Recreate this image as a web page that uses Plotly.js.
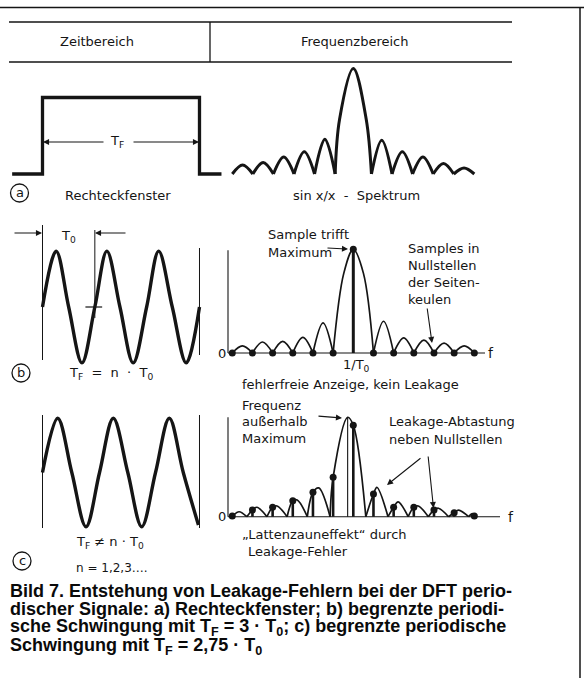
<!DOCTYPE html>
<html><head><meta charset="utf-8">
<script src="https://cdn.plot.ly/plotly-3.0.1.min.js"></script>
<style>html,body{margin:0;padding:0;background:#fff}#plot{width:584px;height:678px}</style>
</head><body><div id="plot"></div>
<script>
// ---------- data ----------
// time domain, t in units of T0 (window T_F spans 0..3)
const rectT = [-0.58, 0, 0, 3, 3, 3.42];
const rectA = [0, 0, 1, 1, 0, 0];
const sineBT = [0, 0.26, 0.5, 0.754, 1.0, 1.23, 1.48, 1.733, 1.99, 2.22, 2.48, 2.747, 3.0];
const sineBA = [0, 1, 0, -1, 0, 1, 0, -1, 0, 1, 0, -1, 0];
const sineCT = [0, 0.29, 0.56, 0.831, 1.09, 1.353, 1.63, 1.896, 2.16, 2.423, 2.69, 2.98];
const sineCA = [0, 1, 0, -1, 0, 1, 0, -1, 0, 1, 0, -0.97];
// frequency domain, k in DFT bins (spacing 1/T_F), magnitude relative to main lobe
const specAZeros = [-6.0, -4.98, -3.96, -2.94, -1.92, -0.9, 0.9, 1.92, 2.94, 3.96, 4.98, 6.0];
const specAPeaks = [0.085, 0.11, 0.16, 0.21, 0.33, 1.0, 0.32, 0.21, 0.16, 0.10, 0.057];
const specAShapeK = [-0.68, 0.64];
const specAShapeH = [0.52, 0.52];
const specBZeros = [-6, -5, -4, -3, -2, -1, 1, 2, 3, 4, 5, 6];
const specBPeaks = [0.068, 0.106, 0.113, 0.15, 0.29, 1.0, 0.306, 0.145, 0.125, 0.096, 0.068];
const specBShapeK = [-0.47, 0.5];
const specBShapeH = [0.77, 0.77];
const sampleBK = [-6, -5, -4, -3, -2, -1, 0, 1, 2, 3, 4, 5, 6];
const sampleBH = [0, 0, 0, 0, 0, 0, 1, 0, 0, 0, 0, 0, 0];
const specCZeros = [-6.05, -5.28, -4.28, -3.28, -2.28, -1.15, 0.62, 1.72, 2.72, 3.72, 4.72, 5.72, 6.1];
const specCPeaks = [0.05, 0.095, 0.108, 0.168, 0.29, 1.0, 0.296, 0.15, 0.108, 0.085, 0.067, 0.03];
const specCMainK = -0.28;
const sampleCK = [-6, -5, -4, -3, -2, -1, 0, 1, 2, 3, 4, 5, 6];
const sampleCH = [0.007, 0.067, 0.095, 0.16, 0.245, 0.396, 0.92, 0.228, 0.095, 0.095, 0.067, 0.04, 0.007];
const mainLobeIndex = 5;

// ---------- layout helpers ----------
const W = 584, H = 678;
const px = x => x / W;
const py = y => 1 - y / H;
function xAxis(p0, p1, origin, scale) {
  return {domain: [px(p0), px(p1)], range: [(p0 - origin) / scale, (p1 - origin) / scale], visible: false, fixedrange: true};
}
function yAxis(top, bottom, origin, scale, anchor) {
  return {domain: [py(bottom), py(top)], range: [(origin - bottom) / scale, (origin - top) / scale], visible: false, fixedrange: true, anchor: anchor};
}
function lobes(zeros, peaks, mainK, exK, exH) {
  const X = [], Y = [];
  for (let i = 0; i < zeros.length - 1; i++) {
    const z0 = zeros[i], z1 = zeros[i + 1];
    const pts = [[z0, 0], [i === mainLobeIndex ? mainK : (z0 + z1) / 2, peaks[i]], [z1, 0]];
    exK.forEach((k, j) => {
      if (k > z0 + 1e-6 && k < z1 - 1e-6 && !pts.some(p => Math.abs(p[0] - k) < 0.02)) pts.push([k, exH[j]]);
    });
    pts.sort((a, b) => a[0] - b[0]);
    pts.forEach(p => { X.push(p[0]); Y.push(p[1]); });
    X.push(null); Y.push(null);
  }
  return {x: X, y: Y};
}
function stems(K, Hh) {
  const X = [], Y = [];
  K.forEach((k, i) => { X.push(k, k, null); Y.push(0, Hh[i], null); });
  return {x: X, y: Y};
}
const INK = '#151515';
const FONT = '"DejaVu Sans", Roboto, sans-serif';
const FS = 13;

const tO = 42.5, tS = 52.33;       // time axis: px of t=0, px per T0
const fO = 353.3, fS = 20.17;      // freq axis: px of k=0, px per bin

const layout = {
  width: W, height: H, margin: {l: 0, r: 0, t: 0, b: 0},
  paper_bgcolor: '#fff', plot_bgcolor: 'rgba(0,0,0,0)', showlegend: false,
  font: {family: FONT, size: FS, color: INK},
  xaxis: xAxis(0, 232, tO, tS), yaxis: yAxis(85, 185, 174, 76.5, 'x'),
  xaxis2: xAxis(205, 530, fO, fS), yaxis2: yAxis(55, 185, 174, 105.5, 'x2'),
  xaxis3: xAxis(0, 232, tO, tS), yaxis3: yAxis(215, 372, 307, 55.85, 'x3'),
  xaxis4: xAxis(205, 530, fO, fS), yaxis4: yAxis(240, 365, 353, 103.7, 'x4'),
  xaxis5: xAxis(0, 232, tO, tS), yaxis5: yAxis(405, 535, 472.5, 54.2, 'x5'),
  xaxis6: xAxis(205, 530, fO, fS), yaxis6: yAxis(405, 525, 516.7, 99.4, 'x6'),
};
['xaxis','xaxis2','xaxis3','xaxis4','xaxis5','xaxis6'].forEach((a, i) => { layout[a].anchor = i === 0 ? 'y' : 'y' + (i + 1); });

const kAxis = (-125.3) / fS; // freq ordinate position (px 228)
const L = (x0, y0, x1, y1, ref, w) => ({type: 'line', xref: ref ? 'x' + ref : 'paper', yref: ref ? 'y' + ref : 'paper', x0, y0, x1, y1, line: {color: INK, width: w || 1.2}});
const P = (x0, y0, x1, y1, w) => L(px(x0), py(y0), px(x1), py(y1), null, w);
const circ = (cx, cy, r) => ({type: 'circle', xref: 'paper', yref: 'paper', x0: px(cx - r), x1: px(cx + r), y0: py(cy + r), y1: py(cy - r), line: {color: INK, width: 1.3}});

layout.shapes = [
  P(0, 7.5, 584, 7.5, 1.5), P(580, 7.5, 580, 678, 1.5),
  P(9, 22, 512, 22, 1.3), P(9, 62, 512, 62, 1.3), P(210, 22, 210, 62, 1.3),
  // row b time-domain markers
  L(0, (307 - 225) / 55.85, 0, (307 - 360) / 55.85, '3', 1),
  L(1, (307 - 230) / 55.85, 1, (307 - 318) / 55.85, '3', 1),
  L(3, (307 - 248) / 55.85, 3, (307 - 355) / 55.85, '3', 1),
  L(0.82, 0, 1.14, 0, '3', 1.2),
  // row c time-domain window
  L(0, (472.5 - 415) / 54.2, 0, (472.5 - 528) / 54.2, '5', 1),
  L(3, (472.5 - 415) / 54.2, 3, (472.5 - 528) / 54.2, '5', 1),
  // frequency axes b and c
  L(kAxis, 0, kAxis, 0.99, '4', 1.1), L(kAxis, 0, (485 - fO) / fS, 0, '4', 1.1),
  L(kAxis, 0, kAxis, 1.0, '6', 1.1), L(kAxis, 0, (500 - fO) / fS, 0, '6', 1.1),
  circ(19.5, 193, 9), circ(21, 373, 9), circ(22, 561, 9),
];

const ann = [];
const T = (text, x, y, o) => ann.push(Object.assign({text, x: px(x), y: py(y), xref: 'paper', yref: 'paper', showarrow: false, xanchor: 'left', yanchor: 'middle', font: {family: FONT, size: FS, color: INK}}, o || {}));
const A = (tx, ty, hx, hy) => ann.push({text: '', x: px(hx), y: py(hy), xref: 'paper', yref: 'paper', ax: tx - hx, ay: ty - hy, showarrow: true, arrowhead: 2, arrowsize: 1.1, arrowwidth: 1.1, arrowcolor: INK, standoff: 0, startstandoff: 0});
T('Zeitbereich', 97, 42, {xanchor: 'center'});
T('Frequenzbereich', 354, 42, {xanchor: 'center'});
T('a', 19.5, 192.5, {xanchor: 'center'});
T('b', 21, 372.5, {xanchor: 'center'});
T('c', 22, 560.5, {xanchor: 'center'});
T('T<sub>F</sub>', 117, 142, {xanchor: 'center'});
A(105, 142, 43, 142); A(132, 142, 199, 142);
T('Rechteckfenster', 118, 195, {xanchor: 'center'});
T('sin x/x  -  Spektrum', 356, 195, {xanchor: 'center'});
T('T<sub>0</sub>', 68, 236, {xanchor: 'center'});
A(13, 233, 42, 233); A(127, 233, 95, 233);
T('T<sub>F</sub>  =  n  ·  T<sub>0</sub>', 67, 373);
T('Sample trifft', 266, 234);
T('Maximum', 266, 252);
A(326, 248, 348, 249);
T('Samples in', 406, 248); T('Nullstellen', 406, 265.5); T('der Seiten-', 406, 282.5); T('keulen', 406, 299);
A(427, 307, 432, 343);
T('0', 222, 353, {xanchor: 'center'});
T('f', 491, 353, {xanchor: 'center', font: {family: FONT, size: 14, color: INK}});
T('1/T<sub>0</sub>', 357, 366, {xanchor: 'center'});
T('fehlerfreie Anzeige, kein Leakage', 240, 385);
T('Frequenz', 240, 405); T('außerhalb', 240, 421.5); T('Maximum', 240, 438);
A(317, 416, 342, 418);
T('Leakage-Abtastung', 387, 421.5); T('neben Nullstellen', 387, 439);
A(422, 457, 387, 485); A(428, 455, 433.5, 508);
T('0', 222, 516.7, {xanchor: 'center'});
T('f', 511, 517, {xanchor: 'center', font: {family: FONT, size: 14, color: INK}});
T('„Lattenzauneffekt“ durch', 240, 534);
T('Leakage-Fehler', 246, 551);
T('T<sub>F</sub> ≠ n · T<sub>0</sub>', 74, 542);
T('n = 1,2,3….', 74, 568, {font: {family: FONT, size: 12, color: INK}});
const CF = {family: '"Liberation Sans", Arial, sans-serif', size: 18, color: '#0a0a0a'};
T('<b>Bild 7. Entstehung von Leakage-Fehlern bei der DFT perio-</b>', 8, 590.5, {font: CF});
T('<b>discher Signale: a) Rechteckfenster; b) begrenzte periodi-</b>', 8, 609, {font: CF});
T('<b>sche Schwingung mit T<sub>F</sub> = 3 · T<sub>0</sub>; c) begrenzte periodische</b>', 8, 627.5, {font: CF});
T('<b>Schwingung mit T<sub>F</sub> = 2,75 · T<sub>0</sub></b>', 8, 646, {font: CF});
layout.annotations = ann;

const cA = lobes(specAZeros, specAPeaks, 0, specAShapeK, specAShapeH);
const cB = lobes(specBZeros, specBPeaks, 0, specBShapeK.concat(sampleBK), specBShapeH.concat(sampleBH));
const cC = lobes(specCZeros, specCPeaks, specCMainK, sampleCK, sampleCH);
const sC = stems(sampleCK, sampleCH);
const sB = stems(sampleBK, sampleBH);

const ln = (w) => ({color: INK, width: w});
const data = [
  {x: rectT, y: rectA, xaxis: 'x', yaxis: 'y', mode: 'lines', line: ln(3.3), cliponaxis: false},
  {x: cA.x, y: cA.y, xaxis: 'x2', yaxis: 'y2', mode: 'lines', line: Object.assign(ln(3), {shape: 'spline', smoothing: 1}), connectgaps: false},
  {x: sineBT, y: sineBA, xaxis: 'x3', yaxis: 'y3', mode: 'lines', line: Object.assign(ln(3.4), {shape: 'spline', smoothing: 1})},
  {x: cB.x, y: cB.y, xaxis: 'x4', yaxis: 'y4', mode: 'lines', line: Object.assign(ln(1.7), {shape: 'spline', smoothing: 1}), connectgaps: false},
  {x: sB.x, y: sB.y, xaxis: 'x4', yaxis: 'y4', mode: 'lines', line: ln(3)},
  {x: sampleBK, y: sampleBH, xaxis: 'x4', yaxis: 'y4', mode: 'markers', marker: {color: INK, size: 7}, cliponaxis: false},
  {x: sineCT, y: sineCA, xaxis: 'x5', yaxis: 'y5', mode: 'lines', line: Object.assign(ln(3.4), {shape: 'spline', smoothing: 1})},
  {x: cC.x, y: cC.y, xaxis: 'x6', yaxis: 'y6', mode: 'lines', line: Object.assign(ln(1.7), {shape: 'spline', smoothing: 1}), connectgaps: false},
  {x: sC.x, y: sC.y, xaxis: 'x6', yaxis: 'y6', mode: 'lines', line: ln(2.6)},
  {x: [specCMainK, specCMainK], y: [0, 1], xaxis: 'x6', yaxis: 'y6', mode: 'lines', line: ln(1.1)},
  {x: sampleCK, y: sampleCH, xaxis: 'x6', yaxis: 'y6', mode: 'markers', marker: {color: INK, size: 7}, cliponaxis: false},
];
Plotly.newPlot('plot', data, layout, {staticPlot: true, displayModeBar: false});
</script></body></html>
